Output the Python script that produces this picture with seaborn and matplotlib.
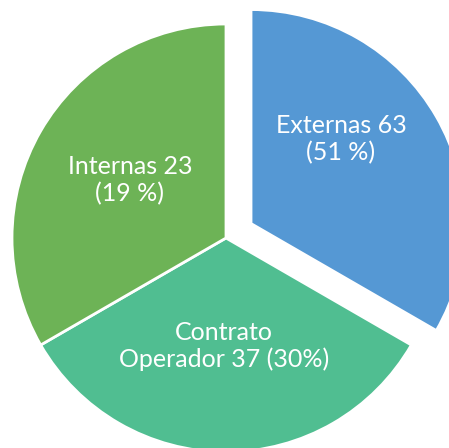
import matplotlib
matplotlib.use("Agg")
import matplotlib.pyplot as plt
import seaborn as sns

# Data (slice sizes: three equal sectors)
categories = ["Externas", "Contrato\nOperador", "Internas"]
slice_sizes = [1, 1, 1]
counts = [63, 37, 23]
pct_labels = ["(51 %)", "(30%)", "(19 %)"]
label_texts = ["Externas 63\n(51 %)", "Contrato\nOperador 37 (30%)", "Internas 23\n(19 %)"]

sns.set_theme(style="white")
plt.rcParams['font.family'] = ['Lato', 'DejaVu Sans']

colors = ["#5598D4", "#50BE91", "#6DB356"]
explode = [0.135, 0, 0]

fig = plt.figure(figsize=(4.49, 4.48), dpi=100)
ax = fig.add_axes([0, 0, 1, 1])
ax.pie(slice_sizes, colors=colors, explode=explode, startangle=90,
       counterclock=False, radius=1,
       wedgeprops=dict(edgecolor="white", linewidth=2))

R = 214.0
cx, cy = 226.0, 238.0
ax.set_xlim(-cx / R, (449 - cx) / R)
ax.set_ylim(-(448 - cy) / R, cy / R)
ax.set_aspect("auto")
ax.axis("off")

label_pos_px = [(341, 139), (224, 346), (130, 180)]
for txt, (px, py) in zip(label_texts, label_pos_px):
    ax.text((px - cx) / R, (cy - py) / R, txt, ha="center", va="center",
            color="white", fontsize=18, linespacing=1.2)

fig.savefig("out.png", dpi=100)
